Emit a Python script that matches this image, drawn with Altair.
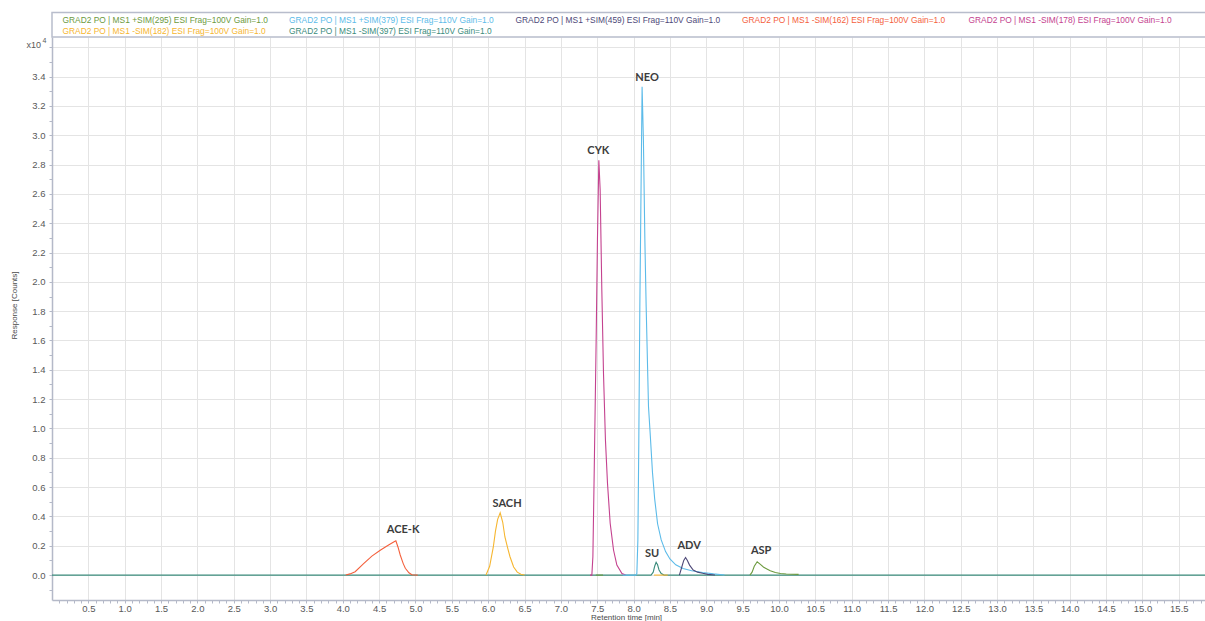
import altair as alt
import pandas as pd

# SIM trace names (legend order) and their colours
series_labels = [
    "GRAD2 PO | MS1 +SIM(295) ESI Frag=100V Gain=1.0",
    "GRAD2 PO | MS1 +SIM(379) ESI Frag=110V Gain=1.0",
    "GRAD2 PO | MS1 +SIM(459) ESI Frag=110V Gain=1.0",
    "GRAD2 PO | MS1 -SIM(162) ESI Frag=100V Gain=1.0",
    "GRAD2 PO | MS1 -SIM(178) ESI Frag=100V Gain=1.0",
    "GRAD2 PO | MS1 -SIM(182) ESI Frag=100V Gain=1.0",
    "GRAD2 PO | MS1 -SIM(397) ESI Frag=110V Gain=1.0",
]
series_colors = ["#6c9a3e", "#5cbbe9", "#4d4878", "#f4603c", "#c4428f", "#f6b630", "#3b8c7c"]

# Retention time [min] / response [x10^4 counts], one pair of lists per acquired window
sim397_t = [0.0, 8.24, 8.27, 8.29, 8.31, 8.33, 8.35, 8.38, 8.42, 15.9]
sim397_y = [0.0, 0.0, 0.02, 0.06, 0.087, 0.07, 0.035, 0.01, 0.0, 0.0]

sim162_t = [4.04, 4.10, 4.17, 4.29, 4.40, 4.52, 4.63, 4.70, 4.73, 4.76, 4.79, 4.83, 4.86, 4.91, 4.95, 5.03]
sim162_y = [0.0, 0.008, 0.023, 0.080, 0.129, 0.171, 0.205, 0.225, 0.234, 0.19, 0.137, 0.08, 0.046, 0.016, 0.002, 0.0]

sim182_t = [5.97, 6.02, 6.07, 6.10, 6.13, 6.165, 6.20, 6.23, 6.27, 6.30, 6.35, 6.40, 6.45, 6.50]
sim182_y = [0.0, 0.06, 0.19, 0.30, 0.38, 0.425, 0.36, 0.26, 0.18, 0.125, 0.055, 0.02, 0.005, 0.0]
sim182b_t = [8.28, 8.47]
sim182b_y = [0.0, 0.0]

sim178_t = [7.40, 7.426, 7.44, 7.458, 7.485, 7.503, 7.522, 7.54, 7.563, 7.586, 7.613, 7.641, 7.678, 7.724, 7.77, 7.84, 7.89]
sim178_y = [0.0, 0.0, 0.125, 0.694, 1.60, 2.29, 2.83, 2.63, 1.945, 1.377, 0.92, 0.626, 0.353, 0.171, 0.068, 0.011, 0.0]

sim295a_t = [7.48, 7.58]
sim295a_y = [0.0, 0.0]
sim295_t = [9.60, 9.63, 9.66, 9.70, 9.74, 9.79, 9.84, 9.88, 9.95, 10.02, 10.10, 10.27]
sim295_y = [0.0, 0.02, 0.06, 0.091, 0.075, 0.053, 0.04, 0.03, 0.018, 0.011, 0.007, 0.005]

sim379_t = [7.85, 8.03, 8.045, 8.059, 8.072, 8.086, 8.10, 8.117, 8.135, 8.155, 8.173, 8.205,
            8.23, 8.26, 8.29, 8.33, 8.38, 8.44, 8.50, 8.58, 8.68, 8.80, 8.95, 9.10, 9.25]
sim379_y = [0.0, 0.0, 0.011, 0.24, 0.92, 1.83, 2.51, 3.33, 2.97, 2.29, 1.83, 1.15,
            0.95, 0.70, 0.52, 0.35, 0.24, 0.16, 0.11, 0.07, 0.045, 0.03, 0.018, 0.008, 0.0]

sim459_t = [8.63, 8.66, 8.69, 8.715, 8.74, 8.77, 8.82, 8.88, 8.95, 9.02, 9.12]
sim459_y = [0.0, 0.05, 0.10, 0.12, 0.10, 0.068, 0.034, 0.02, 0.012, 0.005, 0.0]

# Compound names placed above their peaks
peak_names = ["ACE-K", "SACH", "CYK", "NEO", "SU", "ADV", "ASP"]
peak_label_t = [4.83, 6.26, 7.515, 8.186, 8.255, 8.764, 9.755]
peak_label_y = [0.307, 0.485, 2.894, 3.39, 0.143, 0.198, 0.164]

segments = [
    (6, sim397_t, sim397_y),
    (3, sim162_t, sim162_y),
    (5, sim182_t, sim182_y),
    (5, sim182b_t, sim182b_y),
    (4, sim178_t, sim178_y),
    (0, sim295a_t, sim295a_y),
    (0, sim295_t, sim295_y),
    (1, sim379_t, sim379_y),
    (2, sim459_t, sim459_y),
]
rows = []
for seg_id, (s, ts, ys) in enumerate(segments):
    for i, (t, y) in enumerate(zip(ts, ys)):
        rows.append({"series": series_labels[s], "seg": seg_id, "idx": i, "t": t, "r": y})
traces = pd.DataFrame(rows)
labels = pd.DataFrame({"name": peak_names, "t": peak_label_t, "r": peak_label_y})

x_ticks = [round(i * 0.1, 1) for i in range(1, 159)]
y_ticks = [round(i * 0.1, 1) for i in range(-1, 37)]

x_scale = alt.Scale(domain=[0, 15.86], nice=False, zero=False)
y_scale = alt.Scale(domain=[-0.17, 3.67], nice=False, zero=False)

axis_font = "Liberation Sans"
x_axis = alt.Axis(
    values=x_ticks, tickCount=1000,
    labelExpr="round(datum.value * 10) % 5 == 0 ? format(datum.value, '.1f') : ''",
    gridOpacity={"condition": {"test": "round(datum.value * 10) % 5 == 0", "value": 1}, "value": 0},
    labelOverlap=False, labelBound=False, labelFlush=False,
    tickSize=3, labelPadding=0,
    title="Retention time [min]", titleX=574, titleY=17.3, titleBaseline="middle",
)
y_axis = alt.Axis(
    values=y_ticks, tickCount=1000,
    labelExpr="(round(datum.value * 10) % 2 == 0 && datum.value < 3.5) ? format(datum.value, '.1f') : ''",
    gridOpacity={"condition": {"test": "round(datum.value * 10) % 2 == 0 && datum.value > -0.05", "value": 1}, "value": 0},
    labelOverlap=False, labelBound=False, labelFlush=False,
    tickSize=3, labelPadding=4,
    title="Response [Counts]", titleX=-38, titleY=268, titleAngle=-90,
    titleAlign="center", titleBaseline="middle",
)

lines = alt.Chart(traces).mark_line(strokeWidth=1.1, clip=True).encode(
    x=alt.X("t:Q", scale=x_scale, axis=x_axis),
    y=alt.Y("r:Q", scale=y_scale, axis=y_axis),
    color=alt.Color("series:N", scale=alt.Scale(domain=series_labels, range=series_colors), legend=None),
    detail="seg:N",
    order="idx:Q",
)

peak_text = alt.Chart(labels).mark_text(
    font="Lato", fontSize=11, fontWeight="bold", color="#3c3c3c", baseline="middle"
).encode(x="t:Q", y="r:Q", text="name:N")

# Header box holding the trace names, five per row
frame = alt.Chart(pd.DataFrame({"k": [0]})).mark_rect(
    fill="white", stroke="#b8bdcc", strokeWidth=1.5
).encode(x=alt.value(0), x2=alt.value(1160), y=alt.value(-24.5), y2=alt.value(0))

legend_layers = []
for i, (name, col) in enumerate(zip(series_labels, series_colors)):
    c, r = i % 5, i // 5
    legend_layers.append(
        alt.Chart(pd.DataFrame({"k": [name]})).mark_text(
            font=axis_font, fontSize=8.4, color=col, align="left", baseline="middle"
        ).encode(x=alt.value(10.5 + c * 226.5), y=alt.value(-17 + r * 11), text="k:N")
    )

exp_base = alt.Chart(pd.DataFrame({"k": ["x10"]})).mark_text(
    font=axis_font, fontSize=9, color="#595959", align="right", baseline="middle"
).encode(x=alt.value(-11), y=alt.value(8), text="k:N")
exp_sup = alt.Chart(pd.DataFrame({"k": ["4"]})).mark_text(
    font=axis_font, fontSize=7, color="#595959", align="left", baseline="middle"
).encode(x=alt.value(-9.5), y=alt.value(4), text="k:N")

chart = alt.layer(frame, lines, peak_text, exp_base, exp_sup, *legend_layers).properties(
    width=1153, height=563,
    autosize=alt.AutoSizeParams(type="none"),
    padding={"left": 52, "top": 37, "right": 0, "bottom": 21},
).configure_view(stroke="transparent").configure_axis(
    labelFont=axis_font, labelFontSize=9.5, labelColor="#595959",
    titleFont=axis_font, titleFontSize=8, titleColor="#4a4a4a", titleFontWeight="normal",
    domainColor="#b4b9c8", domainWidth=1.5, tickColor="#b4b9c8",
    gridColor="#e4e4e4", gridWidth=1,
)

chart.save("out.html", embed_options={"renderer": "svg", "actions": False})
